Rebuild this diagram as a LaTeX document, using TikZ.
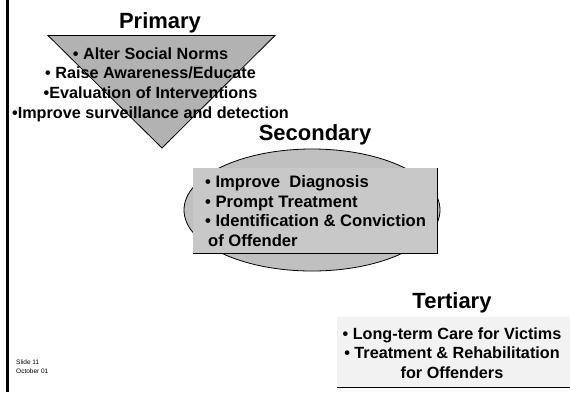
\documentclass[tikz,border=0pt]{standalone}
\usepackage{fontspec}
\setmainfont{Liberation Sans}
\usepackage{xcolor}
\definecolor{triGray}{HTML}{B2B2B2}
\definecolor{ellGray}{HTML}{C0C0C0}
\definecolor{boxGray}{HTML}{C8C8C8}
\definecolor{paleGray}{HTML}{F2F2F2}
\tikzset{
  levelTitle/.style={font=\fontsize{22}{26}\selectfont\bfseries, inner sep=0pt, anchor=base},
  levelList/.style={font=\fontsize{16.2}{19.6}\selectfont\bfseries, inner sep=0pt},
  slideNote/.style={font=\fontsize{6.5}{9}\selectfont, inner sep=0pt, align=left, anchor=north west},
}
\begin{document}
\begin{tikzpicture}[x=1pt,y=1pt,yscale=-1,xscale=1]
\useasboundingbox (0,0) rectangle (570,392);

%Shape: left rule
\draw [line width=2.5] (7.5,0) -- (7.5,392);
%Shape: Triangle (primary)
\draw [fill=triGray, line width=0.8] (48,35.5) -- (275,35.5) -- (162,148) -- cycle;
%Shape: Ellipse (secondary)
\draw [fill=ellGray, line width=0.8] (312,210) ellipse [x radius=128, y radius=61];
%Shape: Rectangle (secondary)
\fill [boxGray] (193,168) rectangle (437,253);
\draw [line width=1]  (193,253) -- (437,253) -- (437,168);
%Shape: Rectangle (tertiary)
\fill [paleGray] (337,317) rectangle (570,387);
\draw [line width=1]  (337,387) -- (570,387);

% Text Node
\node [levelTitle] (primaryTitle) at (160,28) {Primary};
% Text Node
\node [levelList, align=center, anchor=north] (primaryList) at (150.5,47.3)
  {• Alter Social Norms\\• Raise Awareness/Educate\\•Evaluation of Interventions\\•Improve surveillance and detection};
% Text Node
\node [levelTitle] (secondaryTitle) at (315,140) {Secondary};
% Text Node
\node [levelList, font=\fontsize{16.6}{19.7}\selectfont\bfseries, align=left, anchor=north west] (secondaryList) at (205,175.2)
  {• Improve\ \ Diagnosis\\• Prompt Treatment\\• Identification \& Conviction\\\hspace*{3pt}of Offender};
% Text Node
\node [levelTitle] (tertiaryTitle) at (452,308) {Tertiary};
% Text Node
\node [levelList, align=center, anchor=north] (tertiaryList) at (452,327.2)
  {• Long-term Care for Victims\\• Treatment \& Rehabilitation\\for Offenders};
% Text Node
\node [slideNote] (slideInfo) at (16,360) {Slide 11\\October 01};

\end{tikzpicture}
\end{document}
